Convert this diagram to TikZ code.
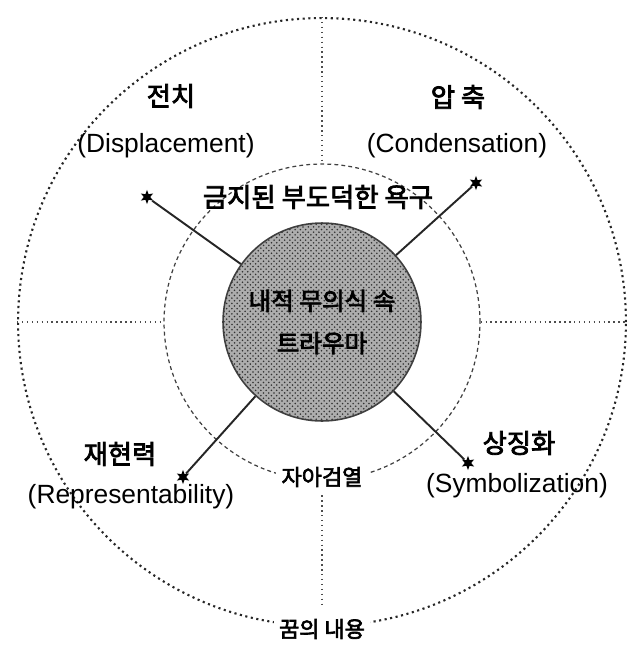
\documentclass[tikz,border=0pt]{standalone}
\usepackage{fontspec}
\setmainfont{Liberation Sans}
\newfontfamily\korfont{Noto Sans CJK KR}[AutoFakeBold=3]
\usepackage{tikz}
\usetikzlibrary{shapes.geometric,patterns}
\newcommand{\dreamfont}{\linespread{1}\fontsize{15}{18}\selectfont}
\newcommand{\dreamkorfont}{\korfont\bfseries\linespread{1}\fontsize{15}{18}\selectfont}
\newcommand{\dreamkorsmallfont}{\korfont\bfseries\linespread{1}\fontsize{12.5}{14}\selectfont}
\tikzset{
    dream/chart/.style={x=0.02cm, y=-0.02cm, every node/.style={align=center, inner sep=1pt}},
    dream/ring/.style={circle, draw=black!85, dotted, line width=1.2pt, minimum size=12.16cm, inner sep=0pt},
    dream/censor/.style={circle, draw=black!75, dash pattern=on 2.2pt off 1.8pt, line width=0.7pt, minimum size=6.32cm, inner sep=0pt},
    dream/core/.style={circle, draw=black!75, line width=0.9pt, fill=black!32, postaction={pattern=crosshatch dots, pattern color=black!80}, minimum size=3.96cm, inner sep=0pt, font=\korfont\bfseries\fontsize{14}{24}\selectfont},
    dream/guide/.style={dotted, line width=0.8pt, draw=black!70},
    dream/spoke/.style={line width=1.1pt, draw=black!85},
    dream/tip/.style={star, star points=6, star point ratio=2.2, fill=black, inner sep=0pt, minimum size=8pt},
    dream/latin/.style={font=\dreamfont},
    dream/kor/.style={font=\dreamkorfont},
    dream/korsmall/.style={font=\dreamkorsmallfont, fill=white, inner sep=3pt}
}
\begin{document}
\begin{tikzpicture}[dream/chart]
    \useasboundingbox (0,0) rectangle (630,646);
    \node[dream/ring] (ring) at (322,322) {};
    \node[dream/censor] (censor) at (322,322) {};
    \draw[dream/guide] (ring.north) -- (censor.north);
    \draw[dream/guide] (ring.west) -- (censor.west);
    \draw[dream/guide] (censor.east) -- (ring.east);
    \draw[dream/guide] (censor.south) -- (322,606);
    \node[dream/core] (core) at (322,322) {내적 무의식 속\\트라우마};
    \node[dream/tip] (tipdisp) at (147,197) {};
    \node[dream/tip] (tipcond) at (476,183) {};
    \node[dream/tip] (tipsymb) at (468,463) {};
    \node[dream/tip] (tiprepr) at (183,477) {};
    \foreach \target in {tipdisp,tipcond,tipsymb,tiprepr}
        \draw[dream/spoke] (core) -- (\target);
    \node[dream/kor] (disp) at (171,96) {전치};
    \node[dream/latin] (displat) at (166,146) {(Displacement)};
    \node[dream/kor] (cond) at (458,97) {압 축};
    \node[dream/latin] (condlat) at (457,146) {(Condensation)};
    \node[dream/kor] (desire) at (318,197) {금지된 부도덕한 욕구};
    \node[dream/kor] (repr) at (120,454) {재현력};
    \node[dream/latin] (reprlat) at (131,497) {(Representability)};
    \node[dream/kor] (symb) at (519,443) {상징화};
    \node[dream/latin] (symblat) at (517,486) {(Symbolization)};
    \node[dream/korsmall] (ego) at (322,477) {자아검열};
    \node[dream/korsmall] (content) at (322,629) {꿈의 내용};
\end{tikzpicture}
\end{document}
